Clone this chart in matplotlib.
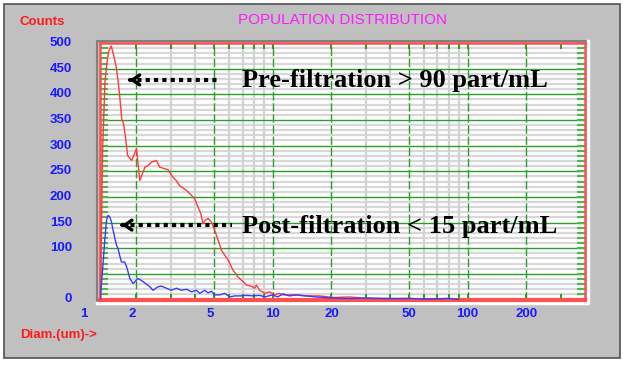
import numpy as np
import matplotlib
matplotlib.use("Agg")
import matplotlib.pyplot as plt
from matplotlib.patches import Rectangle
from matplotlib.lines import Line2D
from matplotlib.transforms import offset_copy

# particle diameter (um) and counts
pre_diam = [1.305, 1.32, 1.34, 1.38, 1.41, 1.44, 1.485, 1.53, 1.58, 1.62, 1.65, 1.68,
            1.72, 1.76, 1.80, 1.89, 2.0, 2.08, 2.21, 2.29, 2.39, 2.53, 2.63, 2.90, 3.08,
            3.2, 3.33, 3.6, 3.83, 3.98, 4.14, 4.28, 4.38, 4.50, 4.66, 4.85, 5.04, 5.24,
            5.46, 5.68, 5.90, 6.26, 6.63, 7.05, 7.33, 7.77, 8.07, 8.24, 8.58, 9.1, 9.65,
            10.2, 10.8, 11.3, 12.7, 14.9, 17.4, 20.4, 24.8, 30, 40, 50, 60, 75]
pre_counts = [0, 115, 290, 426, 461, 484, 494, 475, 450, 417, 387, 352,
              341, 314, 281, 271, 294, 232, 258, 261, 268, 271, 258, 253, 238,
              232, 222, 213, 203, 196, 180, 167, 148, 154, 158, 151, 135, 116,
              96, 86, 77, 57, 44, 35, 28, 26, 22, 28, 18, 12, 15,
              9, 12, 9, 9, 7, 7, 4, 5, 2, 1, 2, 1, 0]

post_diam = [1.30, 1.323, 1.348, 1.375, 1.403, 1.43, 1.459, 1.489, 1.517, 1.55, 1.58, 1.61,
             1.64, 1.675, 1.74, 1.78, 1.85, 1.92, 2.0, 2.04, 2.16, 2.34, 2.43, 2.58,
             2.69, 2.85, 3.02, 3.21, 3.40, 3.61, 3.83, 4.06, 4.22, 4.48, 4.66, 4.85,
             5.04, 5.35, 5.68, 6.02, 6.38, 6.77, 7.33, 7.93, 8.58, 9.1, 10.0, 10.6,
             11.3, 12.2, 13.2, 14.9, 16.7, 20, 25, 30, 40, 50, 60, 80, 90]
post_counts = [0, 31, 70, 115, 154, 164, 161, 151, 135, 119, 106, 99,
               86, 73, 73, 64, 41, 31, 38, 41, 35, 25, 18, 25,
               26, 22, 18, 22, 18, 20, 15, 18, 12, 18, 13, 16,
               9, 9, 12, 5, 7, 7, 8, 7, 8, 5, 9, 5,
               11, 7, 9, 7, 5, 3, 2, 3, 2, 2, 1, 2, 0]

x_labels = [1, 2, 5, 10, 20, 50, 100, 200]
x_label_shift = [6, -4, -4, 0, 0, 0, 0, 0]   # pixel nudges seen in the original
y_labels = [0, 100, 150, 200, 250, 300, 350, 400, 450, 500]
green_x = [2, 5, 10, 20, 50, 100, 200]
gray_x = [3, 4, 6, 7, 8, 9, 30, 40, 60, 70, 80, 90]

W, H = 624, 365
fig = plt.figure(figsize=(W / 100, H / 100), dpi=100, facecolor="white")

# grey window panel
fig.patches.append(Rectangle((4 / W, 7 / H), 616 / W, 354 / H, transform=fig.transFigure,
                             facecolor="#c0c0c0", edgecolor="#505050", lw=1.2, zorder=-10))

L, R, T, B = 100, 585, 43, 299.5
ax = fig.add_axes([L / W, (H - B) / H, (R - L) / W, (B - T) / H])
ax.set_facecolor("white")

# sunken frame effect
fig.lines.append(Line2D([(L - 3) / W, (L - 3) / W, (R + 1) / W], [(H - B - 2) / H, (H - T + 2) / H, (H - T + 2) / H],
                        transform=fig.transFigure, color="#808080", lw=1.5, zorder=-5))
fig.lines.append(Line2D([(L - 3) / W, (R + 3) / W, (R + 3) / W], [(H - B - 3) / H, (H - B - 3) / H, (H - T + 2) / H],
                        transform=fig.transFigure, color="white", lw=2.5, zorder=-5))

ax.set_xscale("log")
ax.set_xlim(1.3, 400)
ax.set_ylim(0, 500)

# grid
for yv in np.arange(10, 500, 10):
    if yv % 50 == 0:
        ax.axhline(yv, color="#28a028", lw=1.0, zorder=1)
    else:
        ax.axhline(yv, color="#d8d8d8", lw=1.6, zorder=0.5)
for xv in gray_x:
    ax.axvline(xv, color="#d2d2d2", lw=1.6, zorder=0.5)
for xv in green_x:
    ax.axvline(xv, color="#28a028", lw=1.0, ls=(0, (6, 2)), zorder=1)

ax.plot(pre_diam, pre_counts, color="#ff3a3a", lw=1.0, zorder=3)
ax.plot(post_diam, post_counts, color="#3a3aff", lw=1.0, zorder=3)

# ticks
ax.set_xticks(green_x + gray_x + [300])
ax.set_xticks([], minor=True)
ax.set_yticks(np.arange(0, 501, 10))
ax.tick_params(axis="x", which="both", direction="in", top=True, bottom=True, length=4,
               width=1.5, color="#28a028", labelbottom=False)
ax.tick_params(axis="y", which="both", direction="in", left=True, right=True, length=6,
               width=1.5, color="#50b450", labelleft=False)
for s in ax.spines.values():
    s.set_color("#ff5050")
    s.set_linewidth(1.8)
ax.spines["bottom"].set_linewidth(3)

lab_font = dict(family="Liberation Sans", weight="bold", fontsize=9.5)
for yv in y_labels:
    ax.text(-0.058, yv, str(yv), transform=ax.get_yaxis_transform(), ha="right", va="center",
            color="#1a1aff", clip_on=False, **lab_font)
for xv, dx in zip(x_labels, x_label_shift):
    tr = offset_copy(ax.get_xaxis_transform(), fig=fig, x=dx, y=0, units="dots")
    ax.text(xv, -0.055, str(xv), transform=tr, ha="center", va="center",
            color="#1a1aff", clip_on=False, **lab_font)

fig.text(20 / W, 1 - 22 / H, "Counts", color="#ff1a1a", ha="left", va="center", **lab_font)
fig.text(20 / W, 1 - 335 / H, "Diam.(um)->", color="#ff1a1a", ha="left", va="center", **lab_font)
fig.text(342 / W, 1 - 20 / H, "POPULATION DISTRIBUTION", color="#ff1aff", ha="center", va="center",
         family="Liberation Sans", fontsize=11)

# annotations
note_font = dict(family="Liberation Serif", weight="bold", fontsize=19, color="black")
ax.text(6.93, 426, "Pre-filtration > 90 part/mL", ha="left", va="center", zorder=5, **note_font)
ax.text(6.93, 142, "Post-filtration < 15 part/mL", ha="left", va="center", zorder=5, **note_font)

for x0, x1, yv in [(1.84, 5.16, 428), (1.68, 6.17, 145)]:
    ax.plot([x0, x1], [yv, yv], color="black", lw=3, ls=(0, (1, 1)), zorder=5)
    ax.annotate("", xy=(x0 * 0.97, yv), xytext=(x0 * 1.04, yv),
                arrowprops=dict(arrowstyle="->, head_length=0.5, head_width=0.35", lw=2.5,
                                color="black"), zorder=5)

fig.savefig("out.png", dpi=100, facecolor="white")
